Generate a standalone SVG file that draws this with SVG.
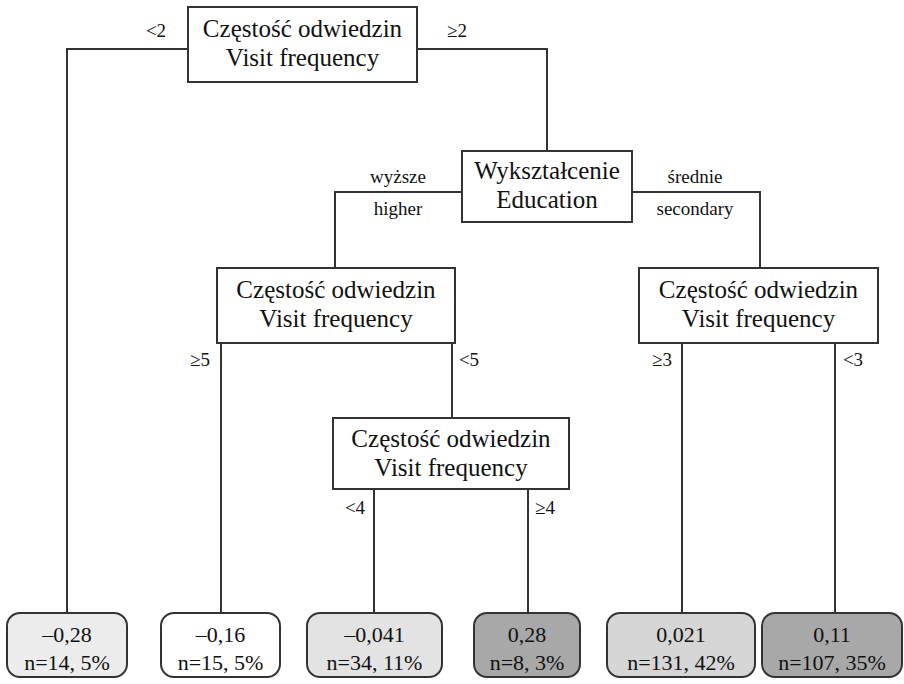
<svg xmlns="http://www.w3.org/2000/svg" width="904" height="684" viewBox="0 0 904 684" font-family="'Liberation Serif','Times New Roman',Tinos,'DejaVu Serif','Noto Serif',serif">
<style>
text{font-family:'Liberation Serif','Times New Roman',Tinos,'DejaVu Serif','Noto Serif',serif;fill:#111;text-anchor:middle}
.n{font-size:25px}
.l{font-size:22px}
.c{font-size:19px}
.box{fill:#fff;stroke:#333;stroke-width:2}
.leaf{stroke:#333;stroke-width:2}
.con{fill:none;stroke:#333;stroke-width:2}
</style>
<rect width="904" height="684" fill="#fff"/>
<g id="connectors">
<path class="con" d="M188,49H67V613"/>
<path class="con" d="M417,49H547V151"/>
<path class="con" d="M462,192H335V268"/>
<path class="con" d="M632,192H760V268"/>
<path class="con" d="M221,343V613"/>
<path class="con" d="M452,343V418"/>
<path class="con" d="M374,489V613"/>
<path class="con" d="M528,489V613"/>
<path class="con" d="M682,343V613"/>
<path class="con" d="M835,343V613"/>
<text class="c" x="156" y="37">&lt;2</text>
<text class="c" x="457" y="37">≥2</text>
<text class="c" x="398" y="183">wyższe</text>
<text class="c" x="398" y="215">higher</text>
<text class="c" x="695" y="183">średnie</text>
<text class="c" x="695" y="215">secondary</text>
<text class="c" x="200" y="366">≥5</text>
<text class="c" x="469" y="366">&lt;5</text>
<text class="c" x="355" y="514">&lt;4</text>
<text class="c" x="545" y="514">≥4</text>
<text class="c" x="662" y="366">≥3</text>
<text class="c" x="853" y="366">&lt;3</text>
</g>
<g id="root">
<rect class="box" x="188" y="7" width="229" height="75"/>
<text class="n" x="302.5" y="37">Częstość odwiedzin</text>
<text class="n" x="302.5" y="66">Visit frequency</text>
</g>
<g id="education">
<rect class="box" x="462" y="151" width="170" height="71"/>
<text class="n" x="547" y="179">Wykształcenie</text>
<text class="n" x="547" y="208">Education</text>
</g>
<g id="freq-higher">
<rect class="box" x="217" y="268" width="238" height="75"/>
<text class="n" x="336" y="298">Częstość odwiedzin</text>
<text class="n" x="336" y="327">Visit frequency</text>
</g>
<g id="freq-lower">
<rect class="box" x="333" y="418" width="236" height="71"/>
<text class="n" x="451" y="447">Częstość odwiedzin</text>
<text class="n" x="451" y="476">Visit frequency</text>
</g>
<g id="freq-secondary">
<rect class="box" x="639" y="268" width="239" height="75"/>
<text class="n" x="758.5" y="298">Częstość odwiedzin</text>
<text class="n" x="758.5" y="327">Visit frequency</text>
</g>
<g id="leaf1">
<rect class="leaf" x="7" y="613" width="120" height="64" rx="13" fill="#ececec"/>
<text class="l" x="67" y="642">–0,28</text>
<text class="l" x="67" y="670">n=14, 5%</text>
</g>
<g id="leaf2">
<rect class="leaf" x="161" y="613" width="119" height="64" rx="13" fill="#fff"/>
<text class="l" x="220.5" y="642">–0,16</text>
<text class="l" x="220.5" y="670">n=15, 5%</text>
</g>
<g id="leaf3">
<rect class="leaf" x="307" y="613" width="135" height="64" rx="13" fill="#e3e3e3"/>
<text class="l" x="374.5" y="642">–0,041</text>
<text class="l" x="374.5" y="670">n=34, 11%</text>
</g>
<g id="leaf4">
<rect class="leaf" x="474" y="613" width="106" height="64" rx="13" fill="#a8a8a8"/>
<text class="l" x="527" y="642">0,28</text>
<text class="l" x="527" y="670">n=8, 3%</text>
</g>
<g id="leaf5">
<rect class="leaf" x="607" y="613" width="148" height="64" rx="13" fill="#d6d6d6"/>
<text class="l" x="681" y="642">0,021</text>
<text class="l" x="681" y="670">n=131, 42%</text>
</g>
<g id="leaf6">
<rect class="leaf" x="762" y="613" width="140" height="64" rx="13" fill="#a8a8a8"/>
<text class="l" x="832" y="642">0,11</text>
<text class="l" x="832" y="670">n=107, 35%</text>
</g>
</svg>
